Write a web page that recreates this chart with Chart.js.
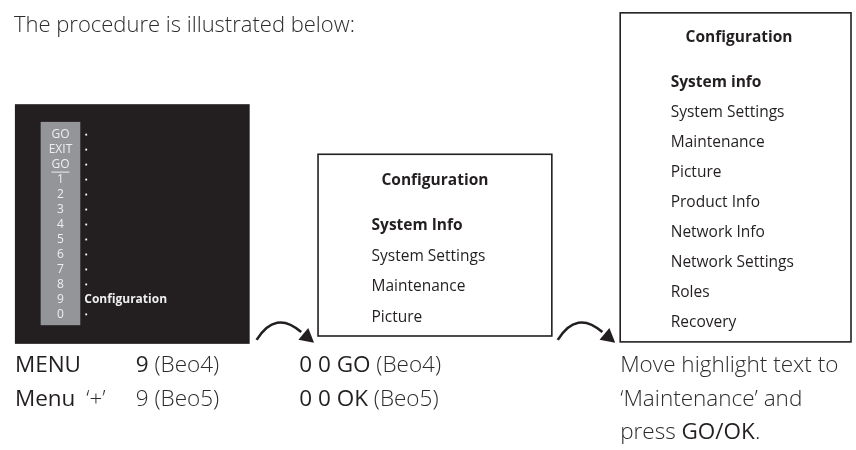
<!DOCTYPE html>
<html lang="en">
<head>
<meta charset="UTF-8">
<title>Configuration procedure</title>
<script src="https://cdn.jsdelivr.net/npm/chart.js"></script>
<style>
  body { margin: 0; background: #fff; }
  canvas { display: block; }
</style>
</head>
<body>
<canvas id="diagram" width="856" height="450"></canvas>
<script>
// texts of the illustration
const introText = 'The procedure is illustrated below:';
const keyLabels = ['GO', 'EXIT', 'GO', '1', '2', '3', '4', '5', '6', '7', '8', '9', '0'];
const keyUnderlined = [false, false, true, false, false, false, false, false, false, false, false, false, false];
const keyMenuText = ['', '', '', '', '', '', '', '', '', '', '', 'Configuration', ''];
const menuTitle = 'Configuration';
const firstMenuItems = ['System Info', 'System Settings', 'Maintenance', 'Picture'];
const fullMenuItems = ['System info', 'System Settings', 'Maintenance', 'Picture', 'Product Info',
                       'Network Info', 'Network Settings', 'Roles', 'Recovery'];
// caption lines: [text, bold]
const captionStep1 = [[['MENU', true]], [['Menu', true]]];
const captionStep1b = [[['9', true], [' (Beo4)', false]], [['9 (Beo5)', false]]];
const captionPlus = ['', '\u2018+\u2019'];
const captionStep2 = [[['0 0 GO', true], [' (Beo4)', false]], [['0 0 OK', true], [' (Beo5)', false]]];
const captionStep3 = [[['Move highlight text to', false]], [['\u2018Maintenance\u2019 and', false]],
                      [['press ', false], ['GO/OK', true], ['.', false]]];

const FONT = '"Open Sans", "Noto Sans", sans-serif';
const INK = '#231f20';

// rows of the key column
const keyRowTop = 133, keyRowStep = 15.25;
const dotPoints = keyLabels
    .map((k, i) => ({ x: 83, y: keyRowTop + i * keyRowStep, show: keyMenuText[i] === '' }))
    .filter(p => p.show);

function writeLine(ctx, x, y, segments, size) {
    let cx = x;
    segments.forEach(function (seg) {
        ctx.font = (seg[1] ? '400 ' : '300 ') + size + 'px ' + FONT;
        ctx.fillStyle = seg[1] ? INK : '#2e2b2c';
        ctx.fillText(seg[0], cx, y);
        cx += ctx.measureText(seg[0]).width;
    });
}

// curved arrow: start, bend control, end of curve, tip of head
function arrow(ctx, x0, y0, cx, cy, x1, y1, tx, ty) {
    ctx.save();
    ctx.strokeStyle = INK;
    ctx.fillStyle = INK;
    ctx.lineWidth = 2.6;
    ctx.beginPath();
    ctx.moveTo(x0, y0);
    ctx.quadraticCurveTo(cx, cy, x1, y1);
    ctx.stroke();
    const ang = Math.atan2(ty - y1, tx - x1);
    const len = 16;
    ctx.beginPath();
    ctx.moveTo(tx, ty);
    ctx.lineTo(tx - len * Math.cos(ang - 0.5), ty - len * Math.sin(ang - 0.5));
    ctx.lineTo(tx - len * Math.cos(ang + 0.5), ty - len * Math.sin(ang + 0.5));
    ctx.closePath();
    ctx.fill();
    ctx.restore();
}

const diagramPlugin = {
    id: 'diagram',
    beforeDatasetsDraw(chart) {
        const ctx = chart.ctx, X = chart.scales.x, Y = chart.scales.y;
        const px = v => X.getPixelForValue(v), py = v => Y.getPixelForValue(v);
        ctx.save();
        // dark TV screen
        ctx.fillStyle = INK;
        ctx.fillRect(px(11), py(102), px(248) - px(11), py(346) - py(102));
        // grey key column
        ctx.fillStyle = '#939598';
        ctx.fillRect(px(37), py(120), px(77) - px(37), py(327) - py(120));
        ctx.restore();
    },
    afterDatasetsDraw(chart) {
        const ctx = chart.ctx, X = chart.scales.x, Y = chart.scales.y;
        const px = v => X.getPixelForValue(v), py = v => Y.getPixelForValue(v);
        ctx.save();

        // intro line
        ctx.textBaseline = 'alphabetic';
        ctx.textAlign = 'left';
        ctx.font = '300 22px ' + FONT;
        ctx.fillStyle = '#2e2b2c';
        ctx.fillText(introText, px(10), py(28));

        // key column labels
        ctx.textBaseline = 'middle';
        keyLabels.forEach(function (k, i) {
            const y = py(keyRowTop + i * keyRowStep);
            ctx.font = '12px ' + FONT;
            ctx.fillStyle = '#eeeeee';
            ctx.textAlign = 'center';
            ctx.fillText(k, px(57), y);
            if (keyUnderlined[i]) {
                const w = ctx.measureText(k).width;
                ctx.fillRect(px(57) - w / 2, y + 7, w, 1);
            }
            if (keyMenuText[i]) {
                ctx.textAlign = 'left';
                ctx.font = 'bold 12px ' + FONT;
                ctx.fillText(keyMenuText[i], px(81), y);
            }
        });

        // middle menu box
        ctx.textBaseline = 'middle';
        ctx.strokeStyle = INK;
        ctx.lineWidth = 1.6;
        ctx.strokeRect(px(317), py(153), px(553) - px(317), py(338) - py(153));
        ctx.fillStyle = INK;
        ctx.textAlign = 'center';
        ctx.font = 'bold 15.5px ' + FONT;
        ctx.fillText(menuTitle, px(435), py(180));
        ctx.textAlign = 'left';
        firstMenuItems.forEach(function (t, i) {
            ctx.font = (i === 0 ? 'bold ' : '') + '15.5px ' + FONT;
            ctx.fillText(t, px(371), py(226 + i * 31));
        });

        // right menu box
        ctx.strokeRect(px(622), py(9), px(855) - px(622), py(344) - py(9));
        ctx.textAlign = 'center';
        ctx.font = 'bold 15.5px ' + FONT;
        ctx.fillText(menuTitle, px(742), py(34));
        ctx.textAlign = 'left';
        fullMenuItems.forEach(function (t, i) {
            ctx.font = (i === 0 ? 'bold ' : '') + '15.5px ' + FONT;
            ctx.fillText(t, px(673), py(80 + i * 30.6));
        });

        // arrows
        arrow(ctx, px(255), py(342), px(274), py(311), px(300), py(334), px(313), py(345));
        arrow(ctx, px(559), py(342), px(578), py(311), px(604), py(334), px(617), py(345));

        // captions
        ctx.textBaseline = 'alphabetic';
        const lineY = [375, 409, 443];
        const size = 22.5;
        captionStep1.forEach((segs, i) => writeLine(ctx, px(11), py(lineY[i]), segs, size));
        captionStep1b.forEach((segs, i) => writeLine(ctx, px(133), py(lineY[i]), segs, size));
        captionPlus.forEach((t, i) => { if (t) writeLine(ctx, px(83), py(lineY[i]), [[t, false]], size); });
        captionStep2.forEach((segs, i) => writeLine(ctx, px(298), py(lineY[i]), segs, size));
        captionStep3.forEach((segs, i) => writeLine(ctx, px(622), py(lineY[i]), segs, size));

        ctx.restore();
    }
};

new Chart(document.getElementById('diagram'), {
    type: 'scatter',
    data: {
        datasets: [{
            data: dotPoints,
            pointStyle: 'rect',
            pointRadius: 1.3,
            backgroundColor: '#ffffff',
            borderWidth: 0
        }]
    },
    options: {
        responsive: false,
        animation: false,
        events: [],
        layout: { padding: 0 },
        plugins: { legend: { display: false }, tooltip: { enabled: false } },
        scales: {
            x: { type: 'linear', min: 0, max: 856, display: false },
            y: { type: 'linear', min: 0, max: 450, reverse: true, display: false }
        }
    },
    plugins: [diagramPlugin]
});
</script>
</body>
</html>
